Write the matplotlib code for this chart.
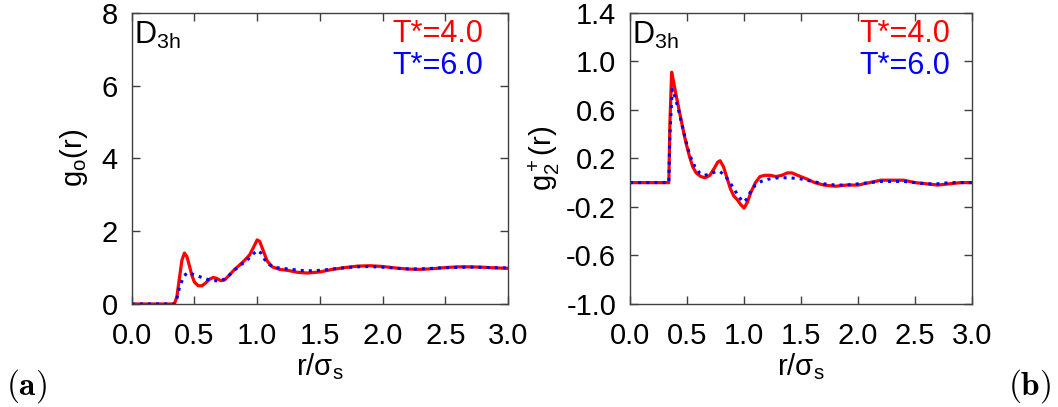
import matplotlib
matplotlib.use("Agg")
import matplotlib.pyplot as plt

plt.rcParams['font.family'] = ['Liberation Sans', 'DejaVu Sans']
plt.rcParams['mathtext.fontset'] = 'custom'
plt.rcParams['mathtext.rm'] = 'Liberation Sans'
plt.rcParams['mathtext.it'] = 'Liberation Sans:italic'
plt.rcParams['mathtext.bf'] = 'Liberation Sans:bold'

# g_0(r), T* = 4.0
r_g0_t4 = [0.0, 0.34, 0.36, 0.38, 0.40, 0.42, 0.44, 0.46, 0.48, 0.50, 0.53, 0.56, 0.59,
           0.62, 0.65, 0.68, 0.71, 0.74, 0.78, 0.82, 0.86, 0.90, 0.94, 0.97, 1.00, 1.02,
           1.05, 1.08, 1.12, 1.18, 1.25, 1.32, 1.40, 1.50, 1.60, 1.70, 1.80, 1.90, 2.00,
           2.10, 2.20, 2.30, 2.40, 2.50, 2.60, 2.70, 2.80, 2.90, 3.00]
g0_t4 = [0.0, 0.0, 0.2, 0.7, 1.2, 1.40, 1.30, 1.05, 0.78, 0.60, 0.50, 0.50, 0.58,
         0.68, 0.73, 0.70, 0.64, 0.66, 0.80, 0.95, 1.07, 1.20, 1.35, 1.55, 1.76, 1.72,
         1.45, 1.18, 1.02, 0.95, 0.92, 0.87, 0.85, 0.88, 0.95, 1.00, 1.04, 1.05, 1.03,
         0.99, 0.96, 0.95, 0.97, 1.00, 1.02, 1.02, 1.01, 0.99, 0.98]

# g_0(r), T* = 6.0
r_g0_t6 = [0.0, 0.34, 0.36, 0.38, 0.41, 0.44, 0.47, 0.50, 0.55, 0.60, 0.65, 0.70, 0.74,
           0.78, 0.82, 0.86, 0.90, 0.94, 0.97, 1.00, 1.03, 1.06, 1.10, 1.15, 1.25, 1.35,
           1.45, 1.55, 1.65, 1.75, 1.85, 1.95, 2.05, 2.15, 2.25, 2.35, 2.45, 2.55, 2.65,
           2.75, 2.85, 3.00]
g0_t6 = [0.0, 0.0, 0.15, 0.45, 0.72, 0.86, 0.84, 0.80, 0.74, 0.68, 0.64, 0.64, 0.68,
         0.80, 0.93, 1.05, 1.15, 1.27, 1.38, 1.47, 1.40, 1.22, 1.07, 1.00, 0.96, 0.92,
         0.91, 0.94, 0.98, 1.01, 1.03, 1.02, 1.00, 0.97, 0.96, 0.97, 0.99, 1.00, 1.01,
         1.01, 1.00, 0.99]

# g_2^+(r), T* = 4.0
r_g2_t4 = [0.0, 0.34, 0.35, 0.365, 0.38, 0.40, 0.43, 0.46, 0.49, 0.52, 0.55, 0.58, 0.62,
           0.66, 0.70, 0.74, 0.77, 0.79, 0.82, 0.85, 0.88, 0.91, 0.94, 0.97, 1.00, 1.03,
           1.06, 1.10, 1.14, 1.18, 1.23, 1.28, 1.33, 1.38, 1.42, 1.47, 1.55, 1.62, 1.70,
           1.80, 1.90, 2.00, 2.10, 2.20, 2.30, 2.40, 2.50, 2.60, 2.70, 2.80, 2.90, 3.00]
g2_t4 = [0.0, 0.0, 0.5, 0.91, 0.84, 0.74, 0.60, 0.46, 0.33, 0.22, 0.13, 0.08, 0.05,
         0.04, 0.06, 0.12, 0.17, 0.18, 0.13, 0.04, -0.05, -0.11, -0.14, -0.18, -0.21, -0.16,
         -0.08, 0.00, 0.05, 0.06, 0.06, 0.05, 0.06, 0.08, 0.08, 0.06, 0.03, 0.00, -0.02,
         -0.03, -0.02, -0.02, 0.00, 0.02, 0.02, 0.02, 0.00, -0.01, -0.02, -0.01, 0.00, 0.00]

# g_2^+(r), T* = 6.0
r_g2_t6 = [0.0, 0.34, 0.35, 0.37, 0.39, 0.42, 0.45, 0.48, 0.51, 0.54, 0.57, 0.61, 0.65,
           0.70, 0.75, 0.79, 0.83, 0.87, 0.91, 0.95, 0.99, 1.02, 1.06, 1.10, 1.15, 1.22,
           1.30, 1.40, 1.50, 1.60, 1.70, 1.80, 1.90, 2.00, 2.10, 2.20, 2.30, 2.40, 2.50,
           2.60, 2.70, 2.80, 3.00]
g2_t6 = [0.0, 0.0, 0.4, 0.77, 0.72, 0.62, 0.50, 0.38, 0.27, 0.19, 0.13, 0.08, 0.06,
         0.07, 0.09, 0.09, 0.06, 0.01, -0.05, -0.11, -0.16, -0.14, -0.07, -0.02, 0.01, 0.03,
         0.04, 0.04, 0.03, 0.01, -0.01, -0.02, -0.02, -0.01, 0.00, 0.01, 0.01, 0.01, 0.00,
         -0.01, -0.01, 0.00, 0.00]

xticks = [0.0, 0.5, 1.0, 1.5, 2.0, 2.5, 3.0]
yticks_a = [0, 2, 4, 6, 8]
yticks_b = [-1.0, -0.6, -0.2, 0.2, 0.6, 1.0, 1.4]

fig = plt.figure(figsize=(10.58, 4.07), dpi=100)
ax1 = fig.add_axes([0.1245, 0.2531, 0.3557, 0.7157])
ax2 = fig.add_axes([0.5955, 0.2531, 0.3233, 0.7157])

def style(ax, yticks, fmt):
    ax.set_xlim(0, 3)
    ax.set_ylim(yticks[0], yticks[-1])
    ax.set_xticks(xticks)
    ax.set_xticklabels(['%.1f' % v for v in xticks])
    ax.set_yticks(yticks)
    ax.set_yticklabels([fmt % v for v in yticks])
    ax.tick_params(direction='in', length=6, width=1, color='#404040',
                   top=True, right=True, labelsize=21, pad=10)
    ax.tick_params(axis='x', pad=13)
    for s in ax.spines.values():
        s.set_color('#404040')
        s.set_linewidth(1)
    ax.text(0.006, 0.975, r'D$_\mathrm{3h}$', transform=ax.transAxes,
            fontsize=22, ha='left', va='top')
    ax.text(0.935, 0.98, 'T*=4.0', color='red', transform=ax.transAxes,
            fontsize=22, ha='right', va='top')
    ax.text(0.935, 0.87, 'T*=6.0', color='blue', transform=ax.transAxes,
            fontsize=22, ha='right', va='top')
    ax.set_xlabel('r/σ$_\mathrm{s}$', fontsize=21, labelpad=1)

ax1.plot(r_g0_t4, g0_t4, color='red', lw=2.3)
ax1.plot(r_g0_t6, g0_t6, color='blue', lw=2.2, linestyle=':')
style(ax1, yticks_a, '%d')
ax1.set_ylabel(r'g$_\mathrm{o}$(r)', fontsize=21, labelpad=8)

ax2.plot(r_g2_t4, g2_t4, color='red', lw=2.3)
ax2.plot(r_g2_t6, g2_t6, color='blue', lw=2.2, linestyle=':')
style(ax2, yticks_b, '%.1f')
ax2.set_ylabel(r'g$_2^+$(r)', fontsize=21, labelpad=3)

fig.text(0.006, 0.005, r'$\mathbf{(a)}$', math_fontfamily='cm', fontsize=24,
         ha='left', va='bottom')
fig.text(0.994, 0.005, r'$\mathbf{(b)}$', math_fontfamily='cm', fontsize=24,
         ha='right', va='bottom')

fig.savefig('out.png', dpi=100)
